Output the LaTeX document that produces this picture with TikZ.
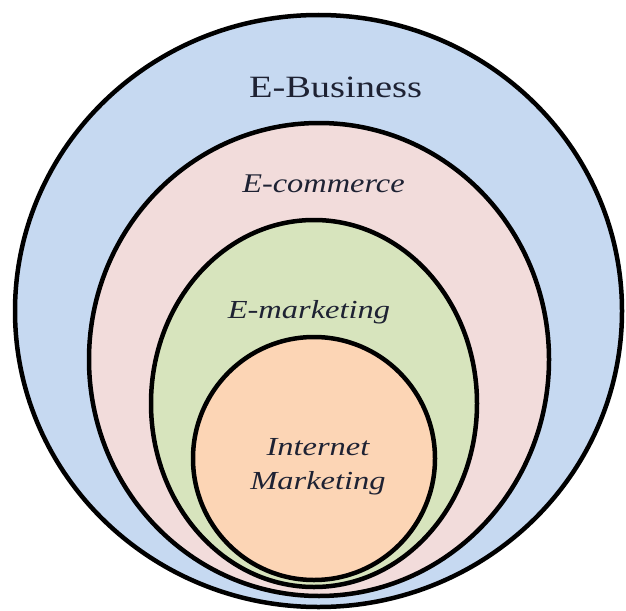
\documentclass[tikz,border=0pt]{standalone}
\usepackage{fontspec}
\setmainfont{Liberation Serif}
\usetikzlibrary{shapes.geometric}

\definecolor{bizblue}{HTML}{C6D9F1}
\definecolor{compink}{HTML}{F2DCDB}
\definecolor{mktgreen}{HTML}{D7E4BD}
\definecolor{netorange}{HTML}{FCD5B5}
\definecolor{labelink}{HTML}{1E2233}

\tikzset{
  ring/.style={ellipse, draw=black, line width=4.5pt, inner sep=0pt},
  lbl/.style={text=labelink, inner sep=0pt, anchor=base},
}

\begin{document}
\begin{tikzpicture}[x=1pt, y=-1pt]
  \useasboundingbox (0,0) rectangle (626,610);
  \fill[white] (0,0) rectangle (626,610);

  % nested areas, outermost first
  \node[ring, fill=bizblue, minimum width=607pt, minimum height=592pt] (ebiz) at (318.5,311) {};
  \node[ring, fill=compink, minimum width=460pt, minimum height=473pt] (ecom) at (319,359.5) {};
  \node[ring, fill=mktgreen, minimum width=326pt, minimum height=367pt] (emkt) at (314,403.5) {};
  \node[ring, fill=netorange, minimum width=242pt, minimum height=243pt] (inet) at (314,458.5) {};

  % labels
  \node[lbl, font=\fontsize{31}{36}\selectfont] (tbiz) at (335.5,97) {\scalebox{1.24}[1]{E-Business}};
  \node[lbl, font=\fontsize{27}{32}\selectfont\itshape] (tcom) at (323.5,192) {\scalebox{1.2}[1]{E-commerce}};
  \node[lbl, font=\fontsize{26}{30}\selectfont\itshape] (tmkt) at (309,318) {\scalebox{1.25}[1]{E-marketing}};
  \node[lbl, font=\fontsize{26}{30}\selectfont\itshape] (tnet1) at (318,455) {\scalebox{1.25}[1]{Internet}};
  \node[lbl, font=\fontsize{26}{30}\selectfont\itshape] (tnet2) at (318,489) {\scalebox{1.25}[1]{Marketing}};
\end{tikzpicture}
\end{document}
